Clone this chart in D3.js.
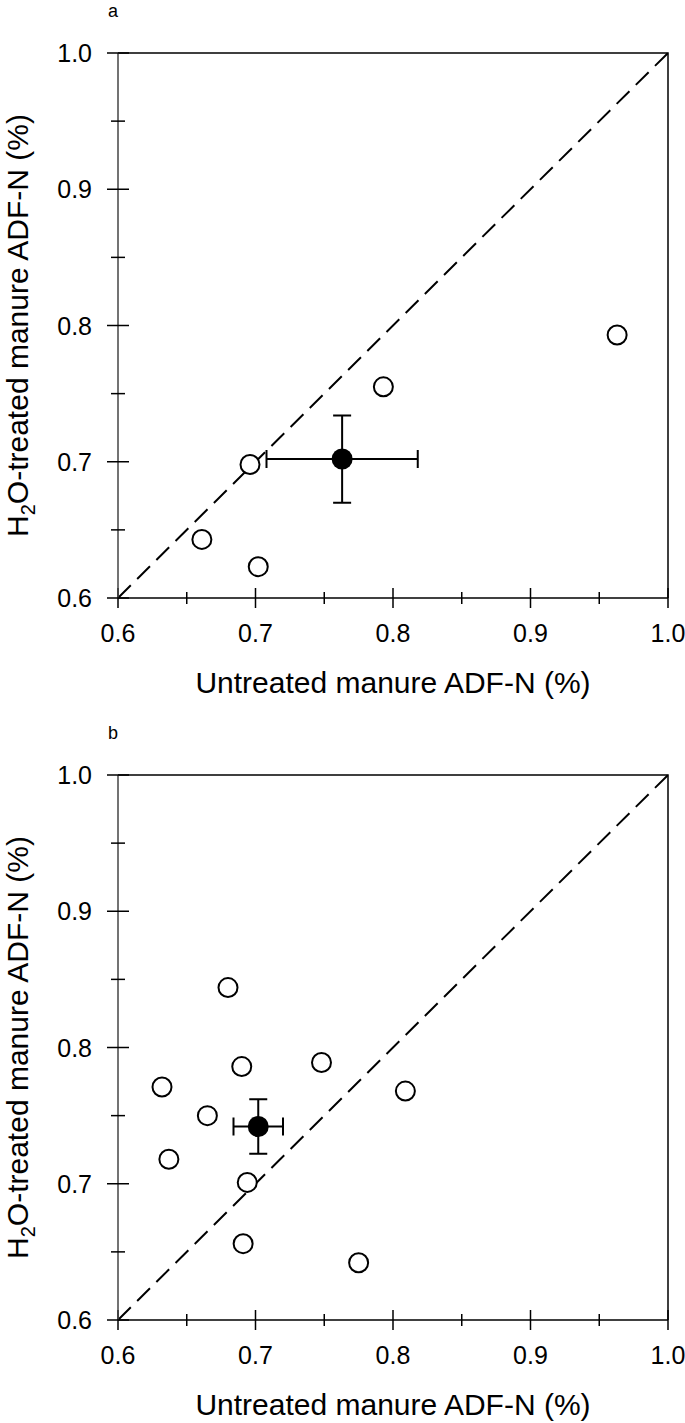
<!DOCTYPE html>
<html>
<head>
<meta charset="utf-8">
<script src="https://cdn.jsdelivr.net/npm/d3@7"></script>
<style>
  body { margin: 0; background: #fff; }
  svg { display: block; font-family: "Liberation Sans", Arial, sans-serif; }
</style>
</head>
<body>
<svg id="container" width="685" height="1423"></svg>
<script>
// Panel a: untreated vs H2O-treated manure ADF-N
const aUntreated = [0.793, 0.696, 0.661, 0.702, 0.963]
const aTreated   = [0.755, 0.698, 0.643, 0.623, 0.793]
const aMean      = [0.763, 0.702]   // x, y of the filled marker
const aErr       = [0.055, 0.032]   // x error, y error

// Panel b
const bUntreated = [0.680, 0.690, 0.748, 0.632, 0.809, 0.665, 0.637, 0.694, 0.691, 0.775]
const bTreated   = [0.844, 0.786, 0.789, 0.771, 0.768, 0.750, 0.718, 0.701, 0.656, 0.642]
const bMean      = [0.702, 0.742]
const bErr       = [0.018, 0.020]

const domain = [0.6, 1.0]
const majorTicks = [0.6, 0.7, 0.8, 0.9, 1.0]
const minorTicks = [0.65, 0.75, 0.85, 0.95]

const xTitle = "Untreated manure ADF-N (%)"

const svg = d3.select("#container")

const left = 118, right = 668, plotH = 545

drawPanel("a", 53, aUntreated, aTreated, aMean, aErr)
drawPanel("b", 775, bUntreated, bTreated, bMean, bErr)

function drawPanel(label, top, xs, ys, mean, err){
  const g = svg.append('g')
  const x = d3.scaleLinear().domain(domain).range([left, right])
  const y = d3.scaleLinear().domain(domain).range([top + plotH, top])

  //1:1 line
  g.append('line')
    .attr('x1', x(domain[0])).attr('y1', y(domain[0]))
    .attr('x2', x(domain[1])).attr('y2', y(domain[1]))
    .attr('stroke', '#000')
    .attr('stroke-width', 2)
    .attr('stroke-dasharray', '18,9')

  //frame: top and right sides
  g.append('path')
    .attr('d', `M${left},${top}H${right}V${top + plotH}`)
    .attr('fill', 'none')
    .attr('stroke', '#000')
    .attr('stroke-width', 1.5)

  //bottom axis, ticks cross the line
  g.append('line')
    .attr('x1', left).attr('x2', right)
    .attr('y1', y(0.6)).attr('y2', y(0.6))
    .attr('stroke', '#000').attr('stroke-width', 1.5)
  g.selectAll('.xmaj').data(majorTicks).join('line')
    .attr('x1', d => x(d)).attr('x2', d => x(d))
    .attr('y1', y(0.6) - 10).attr('y2', y(0.6) + 10)
    .attr('stroke', '#000').attr('stroke-width', 1.5)
  g.selectAll('.xmin').data(minorTicks).join('line')
    .attr('x1', d => x(d)).attr('x2', d => x(d))
    .attr('y1', y(0.6) - 6).attr('y2', y(0.6) + 6)
    .attr('stroke', '#000').attr('stroke-width', 1.5)
  g.selectAll('.xlab').data(majorTicks).join('text')
    .attr('x', d => x(d))
    .attr('y', y(0.6) + 44)
    .attr('text-anchor', 'middle')
    .attr('font-size', 25)
    .text(d3.format('.1f'))

  //left axis (a bit lighter in the original)
  g.append('line')
    .attr('x1', left).attr('x2', left)
    .attr('y1', top).attr('y2', top + plotH)
    .attr('stroke', '#444').attr('stroke-width', 1.5)
  g.selectAll('.ymaj').data(majorTicks).join('line')
    .attr('x1', left - 11).attr('x2', left + 11)
    .attr('y1', d => y(d)).attr('y2', d => y(d))
    .attr('stroke', '#000').attr('stroke-width', 1.5)
  g.selectAll('.ymin').data(minorTicks).join('line')
    .attr('x1', left - 7).attr('x2', left + 7)
    .attr('y1', d => y(d)).attr('y2', d => y(d))
    .attr('stroke', '#000').attr('stroke-width', 1.5)
  g.selectAll('.ylab').data(majorTicks).join('text')
    .attr('x', 92)
    .attr('y', d => y(d) + 9)
    .attr('text-anchor', 'end')
    .attr('font-size', 25)
    .text(d3.format('.1f'))

  //open circles
  g.selectAll('.pt').data(xs).join('circle')
    .attr('cx', d => x(d))
    .attr('cy', (d, i) => y(ys[i]))
    .attr('r', 9.5)
    .attr('fill', '#fff')
    .attr('stroke', '#000')
    .attr('stroke-width', 2)

  //mean with error bars
  const mx = x(mean[0]), my = y(mean[1])
  const x0 = x(mean[0] - err[0]), x1 = x(mean[0] + err[0])
  const y0 = y(mean[1] - err[1]), y1 = y(mean[1] + err[1])
  const cap = 9
  const bars = d3.path()
  bars.moveTo(x0, my); bars.lineTo(x1, my)
  bars.moveTo(mx, y0); bars.lineTo(mx, y1)
  bars.moveTo(x0, my - cap); bars.lineTo(x0, my + cap)
  bars.moveTo(x1, my - cap); bars.lineTo(x1, my + cap)
  bars.moveTo(mx - cap, y0); bars.lineTo(mx + cap, y0)
  bars.moveTo(mx - cap, y1); bars.lineTo(mx + cap, y1)
  g.append('path')
    .attr('d', bars)
    .attr('fill', 'none')
    .attr('stroke', '#000')
    .attr('stroke-width', 2)
  g.append('circle')
    .attr('cx', mx).attr('cy', my)
    .attr('r', 10.5)
    .attr('fill', '#000')

  //panel letter
  g.append('text')
    .attr('x', 108)
    .attr('y', top - 36)
    .attr('font-size', 18)
    .text(label)

  //axis titles
  g.append('text')
    .attr('x', (left + right) / 2)
    .attr('y', top + plotH + 95)
    .attr('text-anchor', 'middle')
    .attr('font-size', 30)
    .text(xTitle)

  const yt = g.append('text')
    .attr('transform', `translate(28, ${top + plotH / 2}) rotate(-90)`)
    .attr('text-anchor', 'middle')
    .attr('font-size', 30)
  yt.append('tspan').text('H')
  yt.append('tspan').attr('font-size', 20).attr('dy', 7).text('2')
  yt.append('tspan').attr('dy', -7).text('O-treated manure ADF-N (%)')
}
</script>
</body>
</html>
